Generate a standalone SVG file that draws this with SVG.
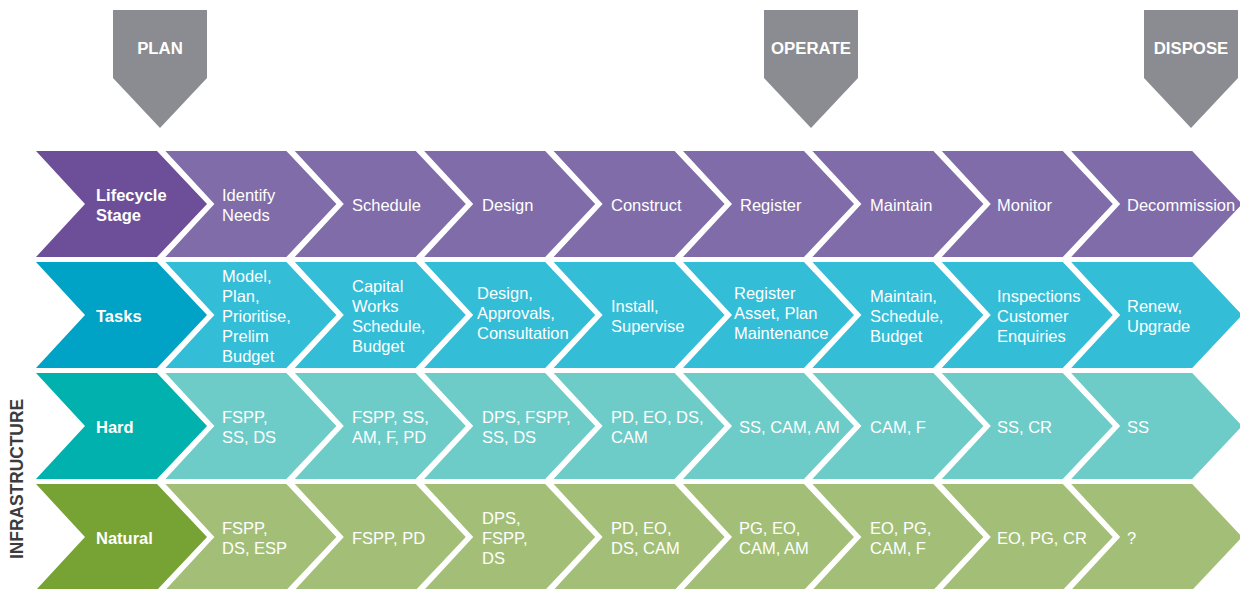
<svg xmlns="http://www.w3.org/2000/svg" width="1240" height="589" viewBox="0 0 1240 589">
<style>
text{font-family:"Liberation Sans",Arial,sans-serif;fill:#fff}
.t{font-size:16.5px}
.h{font-size:16.5px;font-weight:bold}
.s{font-size:16.8px;font-weight:bold;text-anchor:middle}
.stage{fill:#8A8C91}
.lh{fill:#6D4F99}.lb{fill:#806CA8}
.th{fill:#00A2C6}.tb{fill:#33BDD7}
.hh{fill:#00B1AD}.hb{fill:#6DCCC8}
.nh{fill:#77A234}.nb{fill:#A3BF77}
.side{font-size:18.5px;font-weight:bold;fill:#3C3C3C;text-anchor:middle}
</style>
<defs>
<path id="chev" d="M0,0 H121 L171,53 L121,106 H0 L49,53 Z"/>
</defs>
<rect width="1240" height="589" fill="#fff"/>

<g id="phase-plan">
<path class="stage" d="M113,10 H207 V78 L160,128 L113,78 Z"/>
<text class="s" x="160" y="54">PLAN</text>
</g>
<g id="phase-operate">
<path class="stage" d="M764,10 H858 V78 L811,128 L764,78 Z"/>
<text class="s" x="811" y="54">OPERATE</text>
</g>
<g id="phase-dispose">
<path class="stage" d="M1144,10 H1238 V78 L1191,128 L1144,78 Z"/>
<text class="s" x="1191" y="54">DISPOSE</text>
</g>

<g id="label-infrastructure">
<text class="side" transform="translate(23,479) rotate(-90)" textLength="160" lengthAdjust="spacingAndGlyphs">INFRASTRUCTURE</text>
</g>

<!-- Row 1: Lifecycle -->
<g id="row-lifecycle">
<g id="lc-0"><use href="#chev" class="lh" x="36" y="151"/><text class="h" x="96" y="201">Lifecycle</text><text class="h" x="96" y="221">Stage</text></g>
<g id="lc-1"><use href="#chev" class="lb" x="165.4" y="151"/><text class="t" x="222" y="201">Identify</text><text class="t" x="222" y="221">Needs</text></g>
<g id="lc-2"><use href="#chev" class="lb" x="294.8" y="151"/><text class="t" x="352" y="211">Schedule</text></g>
<g id="lc-3"><use href="#chev" class="lb" x="424.2" y="151"/><text class="t" x="482" y="211">Design</text></g>
<g id="lc-4"><use href="#chev" class="lb" x="553.6" y="151"/><text class="t" x="611" y="211">Construct</text></g>
<g id="lc-5"><use href="#chev" class="lb" x="683" y="151"/><text class="t" x="740" y="211">Register</text></g>
<g id="lc-6"><use href="#chev" class="lb" x="812.4" y="151"/><text class="t" x="870" y="211">Maintain</text></g>
<g id="lc-7"><use href="#chev" class="lb" x="941.8" y="151"/><text class="t" x="997" y="211">Monitor</text></g>
<g id="lc-8"><use href="#chev" class="lb" x="1071.2" y="151"/><text class="t" x="1127" y="211">Decommission</text></g>
</g>

<!-- Row 2: Tasks -->
<g id="row-tasks">
<g id="tk-0"><use href="#chev" class="th" x="36" y="262"/><text class="h" x="96" y="322">Tasks</text></g>
<g id="tk-1"><use href="#chev" class="tb" x="165.4" y="262"/><text class="t" x="222" y="282">Model,</text><text class="t" x="222" y="302">Plan,</text><text class="t" x="222" y="322">Prioritise,</text><text class="t" x="222" y="342">Prelim</text><text class="t" x="222" y="362">Budget</text></g>
<g id="tk-2"><use href="#chev" class="tb" x="294.8" y="262"/><text class="t" x="352" y="292">Capital</text><text class="t" x="352" y="312">Works</text><text class="t" x="352" y="332">Schedule,</text><text class="t" x="352" y="352">Budget</text></g>
<g id="tk-3"><use href="#chev" class="tb" x="424.2" y="262"/><text class="t" x="477" y="299">Design,</text><text class="t" x="477" y="319">Approvals,</text><text class="t" x="477" y="339">Consultation</text></g>
<g id="tk-4"><use href="#chev" class="tb" x="553.6" y="262"/><text class="t" x="611" y="312">Install,</text><text class="t" x="611" y="332">Supervise</text></g>
<g id="tk-5"><use href="#chev" class="tb" x="683" y="262"/><text class="t" x="734" y="299">Register</text><text class="t" x="734" y="319">Asset, Plan</text><text class="t" x="734" y="339">Maintenance</text></g>
<g id="tk-6"><use href="#chev" class="tb" x="812.4" y="262"/><text class="t" x="870" y="302">Maintain,</text><text class="t" x="870" y="322">Schedule,</text><text class="t" x="870" y="342">Budget</text></g>
<g id="tk-7"><use href="#chev" class="tb" x="941.8" y="262"/><text class="t" x="997" y="302">Inspections</text><text class="t" x="997" y="322">Customer</text><text class="t" x="997" y="342">Enquiries</text></g>
<g id="tk-8"><use href="#chev" class="tb" x="1071.2" y="262"/><text class="t" x="1127" y="312">Renew,</text><text class="t" x="1127" y="332">Upgrade</text></g>
</g>

<!-- Row 3: Hard -->
<g id="row-hard">
<g id="hd-0"><use href="#chev" class="hh" x="36" y="373"/><text class="h" x="96" y="433">Hard</text></g>
<g id="hd-1"><use href="#chev" class="hb" x="165.4" y="373"/><text class="t" x="222" y="423">FSPP,</text><text class="t" x="222" y="443">SS, DS</text></g>
<g id="hd-2"><use href="#chev" class="hb" x="294.8" y="373"/><text class="t" x="352" y="423">FSPP, SS,</text><text class="t" x="352" y="443">AM, F, PD</text></g>
<g id="hd-3"><use href="#chev" class="hb" x="424.2" y="373"/><text class="t" x="482" y="423">DPS, FSPP,</text><text class="t" x="482" y="443">SS, DS</text></g>
<g id="hd-4"><use href="#chev" class="hb" x="553.6" y="373"/><text class="t" x="611" y="423">PD, EO, DS,</text><text class="t" x="611" y="443">CAM</text></g>
<g id="hd-5"><use href="#chev" class="hb" x="683" y="373"/><text class="t" x="739" y="433">SS, CAM, AM</text></g>
<g id="hd-6"><use href="#chev" class="hb" x="812.4" y="373"/><text class="t" x="870" y="433">CAM, F</text></g>
<g id="hd-7"><use href="#chev" class="hb" x="941.8" y="373"/><text class="t" x="997" y="433">SS, CR</text></g>
<g id="hd-8"><use href="#chev" class="hb" x="1071.2" y="373"/><text class="t" x="1127" y="433">SS</text></g>
</g>

<!-- Row 4: Natural -->
<g id="row-natural">
<g id="nt-0"><use href="#chev" class="nh" x="36" y="484"/><text class="h" x="96" y="544">Natural</text></g>
<g id="nt-1"><use href="#chev" class="nb" x="165.4" y="484"/><text class="t" x="222" y="534">FSPP,</text><text class="t" x="222" y="554">DS, ESP</text></g>
<g id="nt-2"><use href="#chev" class="nb" x="294.8" y="484"/><text class="t" x="352" y="544">FSPP, PD</text></g>
<g id="nt-3"><use href="#chev" class="nb" x="424.2" y="484"/><text class="t" x="482" y="524">DPS,</text><text class="t" x="482" y="544">FSPP,</text><text class="t" x="482" y="564">DS</text></g>
<g id="nt-4"><use href="#chev" class="nb" x="553.6" y="484"/><text class="t" x="611" y="534">PD, EO,</text><text class="t" x="611" y="554">DS, CAM</text></g>
<g id="nt-5"><use href="#chev" class="nb" x="683" y="484"/><text class="t" x="739" y="534">PG, EO,</text><text class="t" x="739" y="554">CAM, AM</text></g>
<g id="nt-6"><use href="#chev" class="nb" x="812.4" y="484"/><text class="t" x="870" y="534">EO, PG,</text><text class="t" x="870" y="554">CAM, F</text></g>
<g id="nt-7"><use href="#chev" class="nb" x="941.8" y="484"/><text class="t" x="997" y="544">EO, PG, CR</text></g>
<g id="nt-8"><use href="#chev" class="nb" x="1071.2" y="484"/><text class="t" x="1127" y="544">?</text></g>
</g>

<g id="connectors"></g>
</svg>
